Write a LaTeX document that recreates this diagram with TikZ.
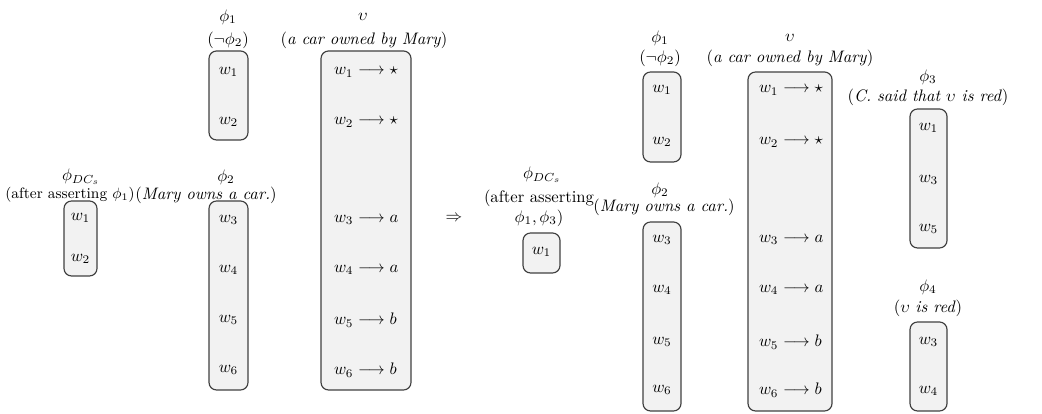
\documentclass[tikz,border=0pt]{standalone}
\usetikzlibrary{fit}
\begin{document}
\begin{tikzpicture}[
    x=0.6pt, y=-0.6pt,
    every node/.style={inner sep=1pt},
    world/.style={rectangle, draw=black!75, fill=black!5, rounded corners=4.5pt, line width=0.7pt, inner sep=0pt},
    caption/.style={align=center},
    entry/.style={anchor=west}
]
\useasboundingbox (0,0) rectangle (1042,414);

% -------------------------
% Left: before the update
% -------------------------
    \node[world, fit={(64,201) (97,276)}] (dcL) {};
    \node (dcLsym) at (81,177) {$\phi_{DC_s}$};
    \node[caption, font=\fontsize{9}{11}\selectfont] (dcLcap) at (70,195) {(after asserting $\phi_1$)};
    \node (dcLa) at (80.5,218) {$w_1$};
    \node (dcLb) at (80.5,259) {$w_2$};

    \node[world, fit={(209,51) (248,140)}] (p1L) {};
    \node (p1Lsym) at (228,17) {$\phi_1$};
    \node[caption] (p1Lcap) at (228,40) {($\neg\phi_2$)};
    \node (p1La) at (228.5,72) {$w_1$};
    \node (p1Lb) at (228.5,122) {$w_2$};

    \node[world, fit={(209,201) (248,390)}] (p2L) {};
    \node (p2Lsym) at (226,177) {$\phi_2$};
    \node[caption] (p2Lcap) at (206,195) {(\textit{Mary owns a car.})};
    \node (p2La) at (228.5,220) {$w_3$};
    \node (p2Lb) at (228.5,270) {$w_4$};
    \node (p2Lc) at (228.5,320) {$w_5$};
    \node (p2Ld) at (228.5,370) {$w_6$};

    \node[world, fit={(321,51) (411,390)}] (uL) {};
    \node (uLsym) at (363,17) {$\upsilon$};
    \node[caption] (uLcap) at (364,40) {(\textit{a car owned by Mary})};
    \node[entry] (uLa) at (332,72) {$w_1 \longrightarrow \star$};
    \node[entry] (uLb) at (332,122) {$w_2 \longrightarrow \star$};
    \node[entry] (uLc) at (332,220) {$w_3 \longrightarrow a$};
    \node[entry] (uLd) at (332,270) {$w_4 \longrightarrow a$};
    \node[entry] (uLe) at (332,320) {$w_5 \longrightarrow b$};
    \node[entry] (uLf) at (332,370) {$w_6 \longrightarrow b$};

% -------------------------
% Update sign
% -------------------------
    \node (implies) at (454,218) {$\Rightarrow$};

% -------------------------
% Right: after the update
% -------------------------
    \node[world, fit={(523,233) (560,273)}] (dcR) {};
    \node (dcRsym) at (542,175) {$\phi_{DC_s}$};
    \node[caption] (dcRcap) at (539,208) {(after asserting\\$\phi_1, \phi_3$)};
    \node (dcRa) at (541.5,252) {$w_1$};

    \node[world, fit={(643,72) (681,162)}] (p1R) {};
    \node (p1Rsym) at (660,38) {$\phi_1$};
    \node[caption] (p1Rcap) at (660,58) {($\neg\phi_2$)};
    \node (p1Ra) at (662,90) {$w_1$};
    \node (p1Rb) at (662,142) {$w_2$};

    \node[world, fit={(643,222) (681,411)}] (p2R) {};
    \node (p2Rsym) at (660,190) {$\phi_2$};
    \node[caption] (p2Rcap) at (664,207) {(\textit{Mary owns a car.})};
    \node (p2Ra) at (662,240) {$w_3$};
    \node (p2Rb) at (662,290) {$w_4$};
    \node (p2Rc) at (662,342) {$w_5$};
    \node (p2Rd) at (662,390) {$w_6$};

    \node[world, fit={(748,72) (832,411)}] (uR) {};
    \node (uRsym) at (790,38) {$\upsilon$};
    \node[caption] (uRcap) at (790,58) {(\textit{a car owned by Mary})};
    \node[entry] (uRa) at (757,90) {$w_1 \longrightarrow \star$};
    \node[entry] (uRb) at (757,142) {$w_2 \longrightarrow \star$};
    \node[entry] (uRc) at (757,240) {$w_3 \longrightarrow a$};
    \node[entry] (uRd) at (757,290) {$w_4 \longrightarrow a$};
    \node[entry] (uRe) at (757,342) {$w_5 \longrightarrow b$};
    \node[entry] (uRf) at (757,390) {$w_6 \longrightarrow b$};

    \node[world, fit={(910,109) (947,248)}] (p3R) {};
    \node (p3Rsym) at (928,77) {$\phi_3$};
    \node[caption] (p3Rcap) at (928,97) {(\textit{C. said that $\upsilon$ is red})};
    \node (p3Ra) at (928.5,128) {$w_1$};
    \node (p3Rb) at (928.5,180) {$w_3$};
    \node (p3Rc) at (928.5,229) {$w_5$};

    \node[world, fit={(910,322) (947,411)}] (p4R) {};
    \node (p4Rsym) at (928,287) {$\phi_4$};
    \node[caption] (p4Rcap) at (928,308) {($\upsilon$ \textit{is red})};
    \node (p4Ra) at (928.5,342) {$w_3$};
    \node (p4Rb) at (928.5,391) {$w_4$};
\end{tikzpicture}
\end{document}
